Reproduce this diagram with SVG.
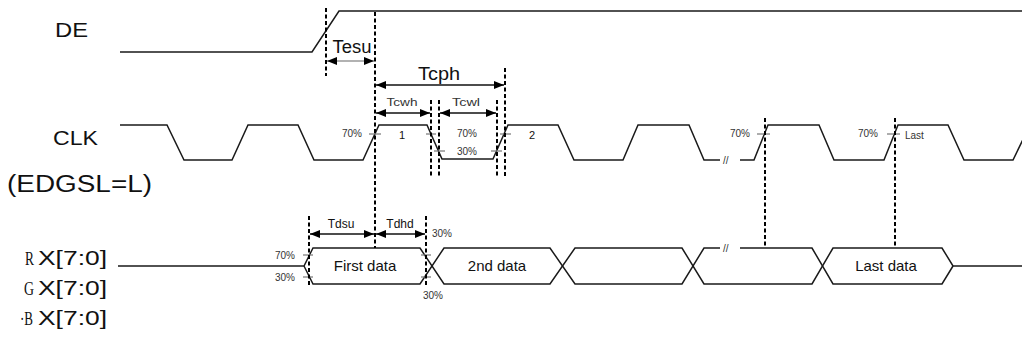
<svg xmlns="http://www.w3.org/2000/svg" width="1022" height="344" viewBox="0 0 1022 344">
<style>
.sig{fill:none;stroke:#1a1a1a;stroke-width:1.5}
.dash{fill:none;stroke:#000;stroke-width:2;stroke-dasharray:4,2.5}
.arr{stroke:#111;stroke-width:1.5;marker-start:url(#ah);marker-end:url(#ah)}
.tick{stroke:#777;stroke-width:1.2}
.lbl{font-family:"Liberation Sans",Arial,sans-serif;fill:#111}
.big{font-size:20px}
.sm{font-family:"Liberation Sans",Arial,sans-serif;font-size:10px;fill:#333}
.ser{font-family:"Liberation Serif","Times New Roman",serif;font-size:19px;fill:#111}
</style>
<defs>
<marker id="ah" viewBox="0 0 10 8" refX="10" refY="4" markerWidth="10" markerHeight="8" markerUnits="userSpaceOnUse" orient="auto-start-reverse">
<path d="M0,0 L10,4 L0,8 z" fill="#000"/>
</marker>
</defs>
<rect width="1022" height="344" fill="#fff"/>

<g id="labels">
<text class="lbl big" x="55" y="37" textLength="33" lengthAdjust="spacingAndGlyphs">DE</text>
<text class="lbl big" x="53" y="145" textLength="45" lengthAdjust="spacingAndGlyphs">CLK</text>
<text class="lbl" font-size="23" x="7" y="192" textLength="145" lengthAdjust="spacingAndGlyphs">(EDGSL=L)</text>
<text class="ser" x="25" y="265" textLength="9" lengthAdjust="spacingAndGlyphs">R</text>
<text class="lbl big" x="38" y="265" textLength="69" lengthAdjust="spacingAndGlyphs">X[7:0]</text>
<text class="ser" x="24" y="295" textLength="10" lengthAdjust="spacingAndGlyphs">G</text>
<text class="lbl big" x="38" y="295" textLength="69" lengthAdjust="spacingAndGlyphs">X[7:0]</text>
<text class="ser" x="20" y="325" textLength="13" lengthAdjust="spacingAndGlyphs">·B</text>
<text class="lbl big" x="38" y="325" textLength="69" lengthAdjust="spacingAndGlyphs">X[7:0]</text>
</g>

<g id="DE">
<polyline class="sig" points="120,52 312,52 339,11 1022,11"/>
</g>

<g id="CLK">
<polyline class="sig" points="120,125 167,125 184,160 232,160 248,125 298,125 314,160 363,160 379,125 427,125 442,159 493,159 508,125 558,125 574,160 623,160 638,125 689,125 704,160 720,160"/>
<text class="sm" x="723" y="164">//</text>
<polyline class="sig" points="740,160 754,160 768,125 819,125 834,160 884,160 898,125 948,125 964,160 1013,160 1030,125"/>
</g>

<g id="BUS">
<polyline class="sig" points="118,266 304,266 313,248 420,248 444,284 550,284 575,248 682,248 704,284 812,284 833,248 942,248 953,266 1022,266"/>
<polyline class="sig" points="304,266 313,284 420,284 444,248 550,248 575,284 682,284 704,248 720,248"/>
<text class="sm" x="723" y="252">//</text>
<polyline class="sig" points="740,248 812,248 833,284 942,284 953,266"/>
<text class="lbl" x="365" y="271" font-size="15" text-anchor="middle">First data</text>
<text class="lbl" x="497" y="271" font-size="15" text-anchor="middle">2nd data</text>
<text class="lbl" x="886" y="271" font-size="15" text-anchor="middle">Last data</text>
</g>

<g id="ticks">
<line class="tick" x1="369" y1="134" x2="381" y2="134"/>
<line class="tick" x1="426" y1="134" x2="436" y2="134"/>
<line class="tick" x1="434" y1="151" x2="445" y2="151"/>
<line class="tick" x1="491" y1="151" x2="502" y2="151"/>
<line class="tick" x1="500" y1="134" x2="511" y2="134"/>
<line class="tick" x1="757" y1="134" x2="770" y2="134"/>
<line class="tick" x1="887" y1="134" x2="900" y2="134"/>
<line class="tick" x1="303" y1="255" x2="313" y2="255"/>
<line class="tick" x1="303" y1="277" x2="313" y2="277"/>
<line class="tick" x1="421" y1="255" x2="431" y2="255"/>
<line class="tick" x1="421" y1="277" x2="431" y2="277"/>
<text class="sm" x="342" y="137">70%</text>
<text class="lbl" x="402" y="139" font-size="11" text-anchor="middle">1</text>
<text class="sm" x="467" y="137" text-anchor="middle">70%</text>
<text class="sm" x="467" y="155" text-anchor="middle">30%</text>
<text class="lbl" x="532" y="139" font-size="11" text-anchor="middle">2</text>
<text class="sm" x="730" y="137">70%</text>
<text class="sm" x="858" y="137">70%</text>
<text class="sm" x="905" y="139">Last</text>
<text class="sm" x="275" y="259">70%</text>
<text class="sm" x="275" y="281">30%</text>
<text class="sm" x="432" y="237">30%</text>
<text class="sm" x="423" y="299">30%</text>
</g>

<g id="connectors">
<line class="dash" x1="326" y1="8" x2="326" y2="76"/>
<line class="dash" x1="375" y1="12" x2="375" y2="248"/>
<line class="dash" x1="505" y1="68" x2="505" y2="178"/>
<line class="dash" x1="431" y1="100" x2="431" y2="178"/>
<line class="dash" x1="439" y1="100" x2="439" y2="178"/>
<line class="dash" x1="497" y1="100" x2="497" y2="178"/>
<line class="dash" x1="765" y1="118" x2="765" y2="248"/>
<line class="dash" x1="895" y1="118" x2="895" y2="248"/>
<line class="dash" x1="309" y1="216" x2="309" y2="286"/>
<line class="dash" x1="426" y1="216" x2="426" y2="286"/>
<line class="arr" x1="327" y1="61" x2="374" y2="61" style="stroke:#999"/>
<line class="arr" x1="376" y1="85" x2="504" y2="85"/>
<line class="arr" x1="376" y1="113" x2="430" y2="113"/>
<line class="arr" x1="440" y1="113" x2="496" y2="113"/>
<line class="arr" x1="310" y1="234" x2="374" y2="234"/>
<line class="arr" x1="376" y1="234" x2="425" y2="234"/>
<text class="lbl" x="352" y="53" font-size="18" text-anchor="middle" textLength="39" lengthAdjust="spacingAndGlyphs">Tesu</text>
<text class="lbl" x="439" y="80" font-size="18" text-anchor="middle" textLength="42" lengthAdjust="spacingAndGlyphs">Tcph</text>
<text class="sm" x="402" y="106" text-anchor="middle" textLength="31" lengthAdjust="spacingAndGlyphs">Tcwh</text>
<text class="sm" x="466" y="106" text-anchor="middle" textLength="28" lengthAdjust="spacingAndGlyphs">Tcwl</text>
<text class="lbl" x="341" y="228" font-size="12" text-anchor="middle">Tdsu</text>
<text class="lbl" x="400" y="228" font-size="12" text-anchor="middle">Tdhd</text>
</g>
</svg>
